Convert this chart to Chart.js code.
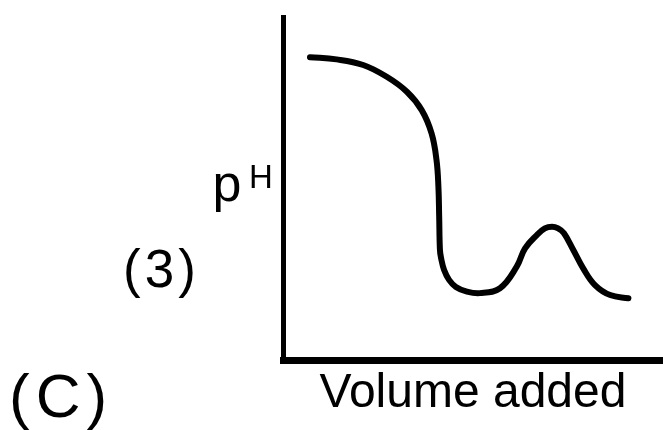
<!DOCTYPE html>
<html>
<head>
<meta charset="utf-8">
<script src="https://cdn.jsdelivr.net/npm/chart.js@4"></script>
<style>
    body { margin: 0; background: #fff; }
    canvas { display: block; }
</style>
</head>
<body>
<canvas id="ph-chart" width="663" height="430"></canvas>
<script>
// titration curve: volume added (0-100) vs pH (0-14)
const volume = [7.1, 14.1, 21.1, 27.3, 32.6, 36.5, 39.1, 40.4, 40.9, 41.1, 41.3, 41.6, 42.4, 43.7,
    45.5, 48.2, 51.8, 57.1, 61.5, 63.7, 66.8, 68.9, 70.8, 72.4, 73.9, 76.4, 79.0, 82.1, 86.1, 90.9];
const ph = [12.36, 12.27, 12.04, 11.56, 10.95, 10.20, 9.25, 8.16, 7.07, 5.85, 4.49, 4.16, 3.67, 3.27,
    2.98, 2.80, 2.73, 2.93, 3.81, 4.56, 5.10, 5.37, 5.44, 5.37, 5.18, 4.49, 3.74, 3.06, 2.65, 2.52];

const xTitle = "Volume added";
const yLabel = "p";
const yLabelSup = "H";
const plotTag = "(3)";
const optionTag = "(C)";

const FONT = "'Liberation Sans', Arial, Helvetica, sans-serif";

// free text around the axes (pH with superscript, item labels)
const labelsPlugin = {
    id: "labels",
    afterDraw(chart) {
        const ctx = chart.ctx;
        ctx.save();
        ctx.fillStyle = "#000";
        ctx.textBaseline = "alphabetic";
        ctx.textAlign = "left";

        ctx.font = "52px " + FONT;
        ctx.fillText(yLabel, 212.5, 201);
        ctx.font = "33px " + FONT;
        ctx.fillText(yLabelSup, 249, 188);

        ctx.font = "53px " + FONT;
        ctx.letterSpacing = "4px";
        ctx.fillText(plotTag, 123, 287);

        ctx.font = "62px " + FONT;
        ctx.letterSpacing = "6px";
        ctx.fillText(optionTag, 9, 417);
        ctx.restore();
    },
};

let points = volume.map((v, i) => ({ x: v, y: ph[i] }));

new Chart(document.getElementById("ph-chart"), {
    type: "line",
    data: {
        datasets: [
            {
                label: "pH",
                data: points,
                borderColor: "#000",
                borderWidth: 6,
                borderCapStyle: "round",
                borderJoinStyle: "round",
                tension: 0.4,
                pointRadius: 0,
                fill: false,
            },
        ],
    },
    options: {
        responsive: false,
        animation: false,
        events: [],
        layout: {
            padding: { left: 283, top: 17, right: 0, bottom: 0 },
        },
        plugins: {
            legend: { display: false },
            tooltip: { enabled: false },
        },
        scales: {
            x: {
                type: "linear",
                min: 0,
                max: 100,
                ticks: { display: false },
                grid: { display: false, drawTicks: false },
                border: { display: true, color: "#000", width: 7 },
                title: {
                    display: true,
                    text: xTitle,
                    color: "#000",
                    font: { family: FONT, size: 48 },
                    padding: { top: 4.6, bottom: 7.8 },
                },
            },
            y: {
                type: "linear",
                min: 0,
                max: 14,
                ticks: { display: false },
                grid: { display: false, drawTicks: false },
                border: { display: true, color: "#000", width: 5 },
            },
        },
    },
    plugins: [labelsPlugin],
});
</script>
</body>
</html>
